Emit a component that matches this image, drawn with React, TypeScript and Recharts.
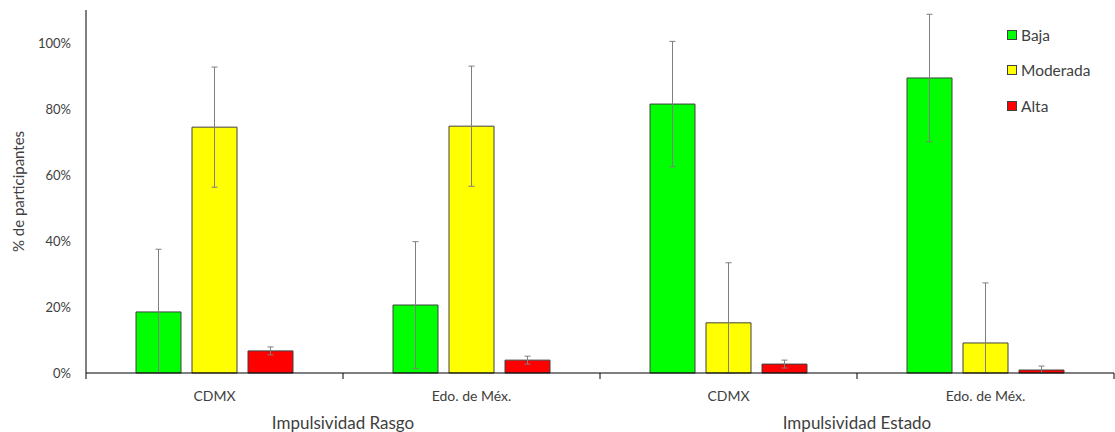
import { BarChart, Bar, XAxis, YAxis, ErrorBar } from "recharts";

const categories = ["CDMX", "Edo. de Méx.", "CDMX", "Edo. de Méx."];
const groups = ["Impulsividad Rasgo", "Impulsividad Rasgo", "Impulsividad Estado", "Impulsividad Estado"];
const baja = [18.5, 20.6, 81.5, 89.4];
const moderada = [74.5, 74.8, 15.2, 9.1];
const alta = [6.7, 3.9, 2.7, 0.9];
const bajaErr = [19.0, 19.2, 19.0, 19.3];
const moderadaErr = [18.2, 18.2, 18.2, 18.2];
const altaErr = [1.2, 1.2, 1.2, 1.2];
const yTicks = [0, 20, 40, 60, 80, 100];

const FONT = "Lato, 'Open Sans', sans-serif";
const TEXT = "#404040";

const series = [
  { key: "baja", name: "Baja", color: "#00ff00" },
  { key: "moderada", name: "Moderada", color: "#ffff00" },
  { key: "alta", name: "Alta", color: "#ff0000" },
];

// error bar clipped at zero, like the original
const errPair = (v: number, e: number): [number, number] => [Math.min(v, e), e];

const data = categories.map((name, i) => ({
  name,
  group: groups[i],
  baja: baja[i],
  moderada: moderada[i],
  alta: alta[i],
  bajaErr: errPair(baja[i], bajaErr[i]),
  moderadaErr: errPair(moderada[i], moderadaErr[i]),
  altaErr: errPair(alta[i], altaErr[i]),
}));

const CategoryTick = (props: any) => {
  const { x, y, payload, index } = props;
  const half = payload?.offset ?? 128.6;
  return (
    <g>
      <line x1={x - half} x2={x - half} y1={y} y2={y + 6} stroke="#000" strokeWidth={1} />
      {index === categories.length - 1 && (
        <line x1={x + half} x2={x + half} y1={y} y2={y + 6} stroke="#000" strokeWidth={1} />
      )}
      <text x={x} y={y + 28} textAnchor="middle" fill={TEXT} fontSize={14} fontFamily={FONT}>
        {payload.value}
      </text>
    </g>
  );
};

const GroupTick = (props: any) => {
  const { x, y, payload } = props;
  return (
    <text x={x} y={y + 26} textAnchor="middle" fill={TEXT} fontSize={17} fontFamily={FONT}>
      {payload.value}
    </text>
  );
};

const LegendBox = () => (
  <div
    style={{
      position: "absolute",
      left: 1007,
      top: 17,
      width: 108,
      fontFamily: FONT,
      fontSize: 15.5,
      color: TEXT,
    }}
  >
    {series.map((s) => (
      <div key={s.key} style={{ display: "flex", alignItems: "center", height: 35.5 }}>
        <span
          style={{
            display: "inline-block",
            width: 8,
            height: 8,
            background: s.color,
            border: "1px solid #404040",
            marginRight: 4,
          }}
        />
        {s.name}
      </div>
    ))}
  </div>
);

export default function App() {
  return (
    <div style={{ position: "absolute", left: 0, top: 0, width: 1115, height: 432, background: "#fff" }}>
      <BarChart
        width={1115}
        height={432}
        data={data}
        margin={{ top: 10, right: 1, bottom: 0, left: 0 }}
        barSize={45}
        barGap={11}
      >
        <XAxis
          dataKey="name"
          height={30}
          axisLine={{ stroke: "#000" }}
          tickLine={false}
          tickSize={0}
          tickMargin={0}
          tick={<CategoryTick />}
          interval={0}
        />
        <XAxis
          xAxisId="group"
          dataKey="group"
          allowDuplicatedCategory={false}
          height={29}
          axisLine={false}
          tickLine={false}
          tickSize={0}
          tickMargin={0}
          tick={<GroupTick />}
          interval={0}
        />
        <YAxis
          width={86}
          domain={[0, 110]}
          ticks={yTicks}
          tickFormatter={(v: number) => `${v}%`}
          axisLine={{ stroke: "#000" }}
          tickLine={false}
          tickSize={0}
          tickMargin={15}
          tick={{ fill: TEXT, fontSize: 13, fontFamily: FONT }}
          label={({ viewBox }: any) => (
            <text
              x={viewBox.x + 24}
              y={viewBox.y + viewBox.height / 2}
              transform={`rotate(-90, ${viewBox.x + 24}, ${viewBox.y + viewBox.height / 2})`}
              textAnchor="middle"
              fill={TEXT}
              fontSize={15}
              fontFamily={FONT}
            >
              % de participantes
            </text>
          )}
        />
        {series.map((s) => (
          <Bar
            key={s.key}
            dataKey={s.key}
            name={s.name}
            fill={s.color}
            stroke="#404040"
            strokeWidth={1}
            isAnimationActive={false}
          >
            <ErrorBar dataKey={`${s.key}Err`} width={3} stroke="#7f7f7f" strokeWidth={1} direction="y" />
          </Bar>
        ))}
      </BarChart>
      <LegendBox />
    </div>
  );
}
